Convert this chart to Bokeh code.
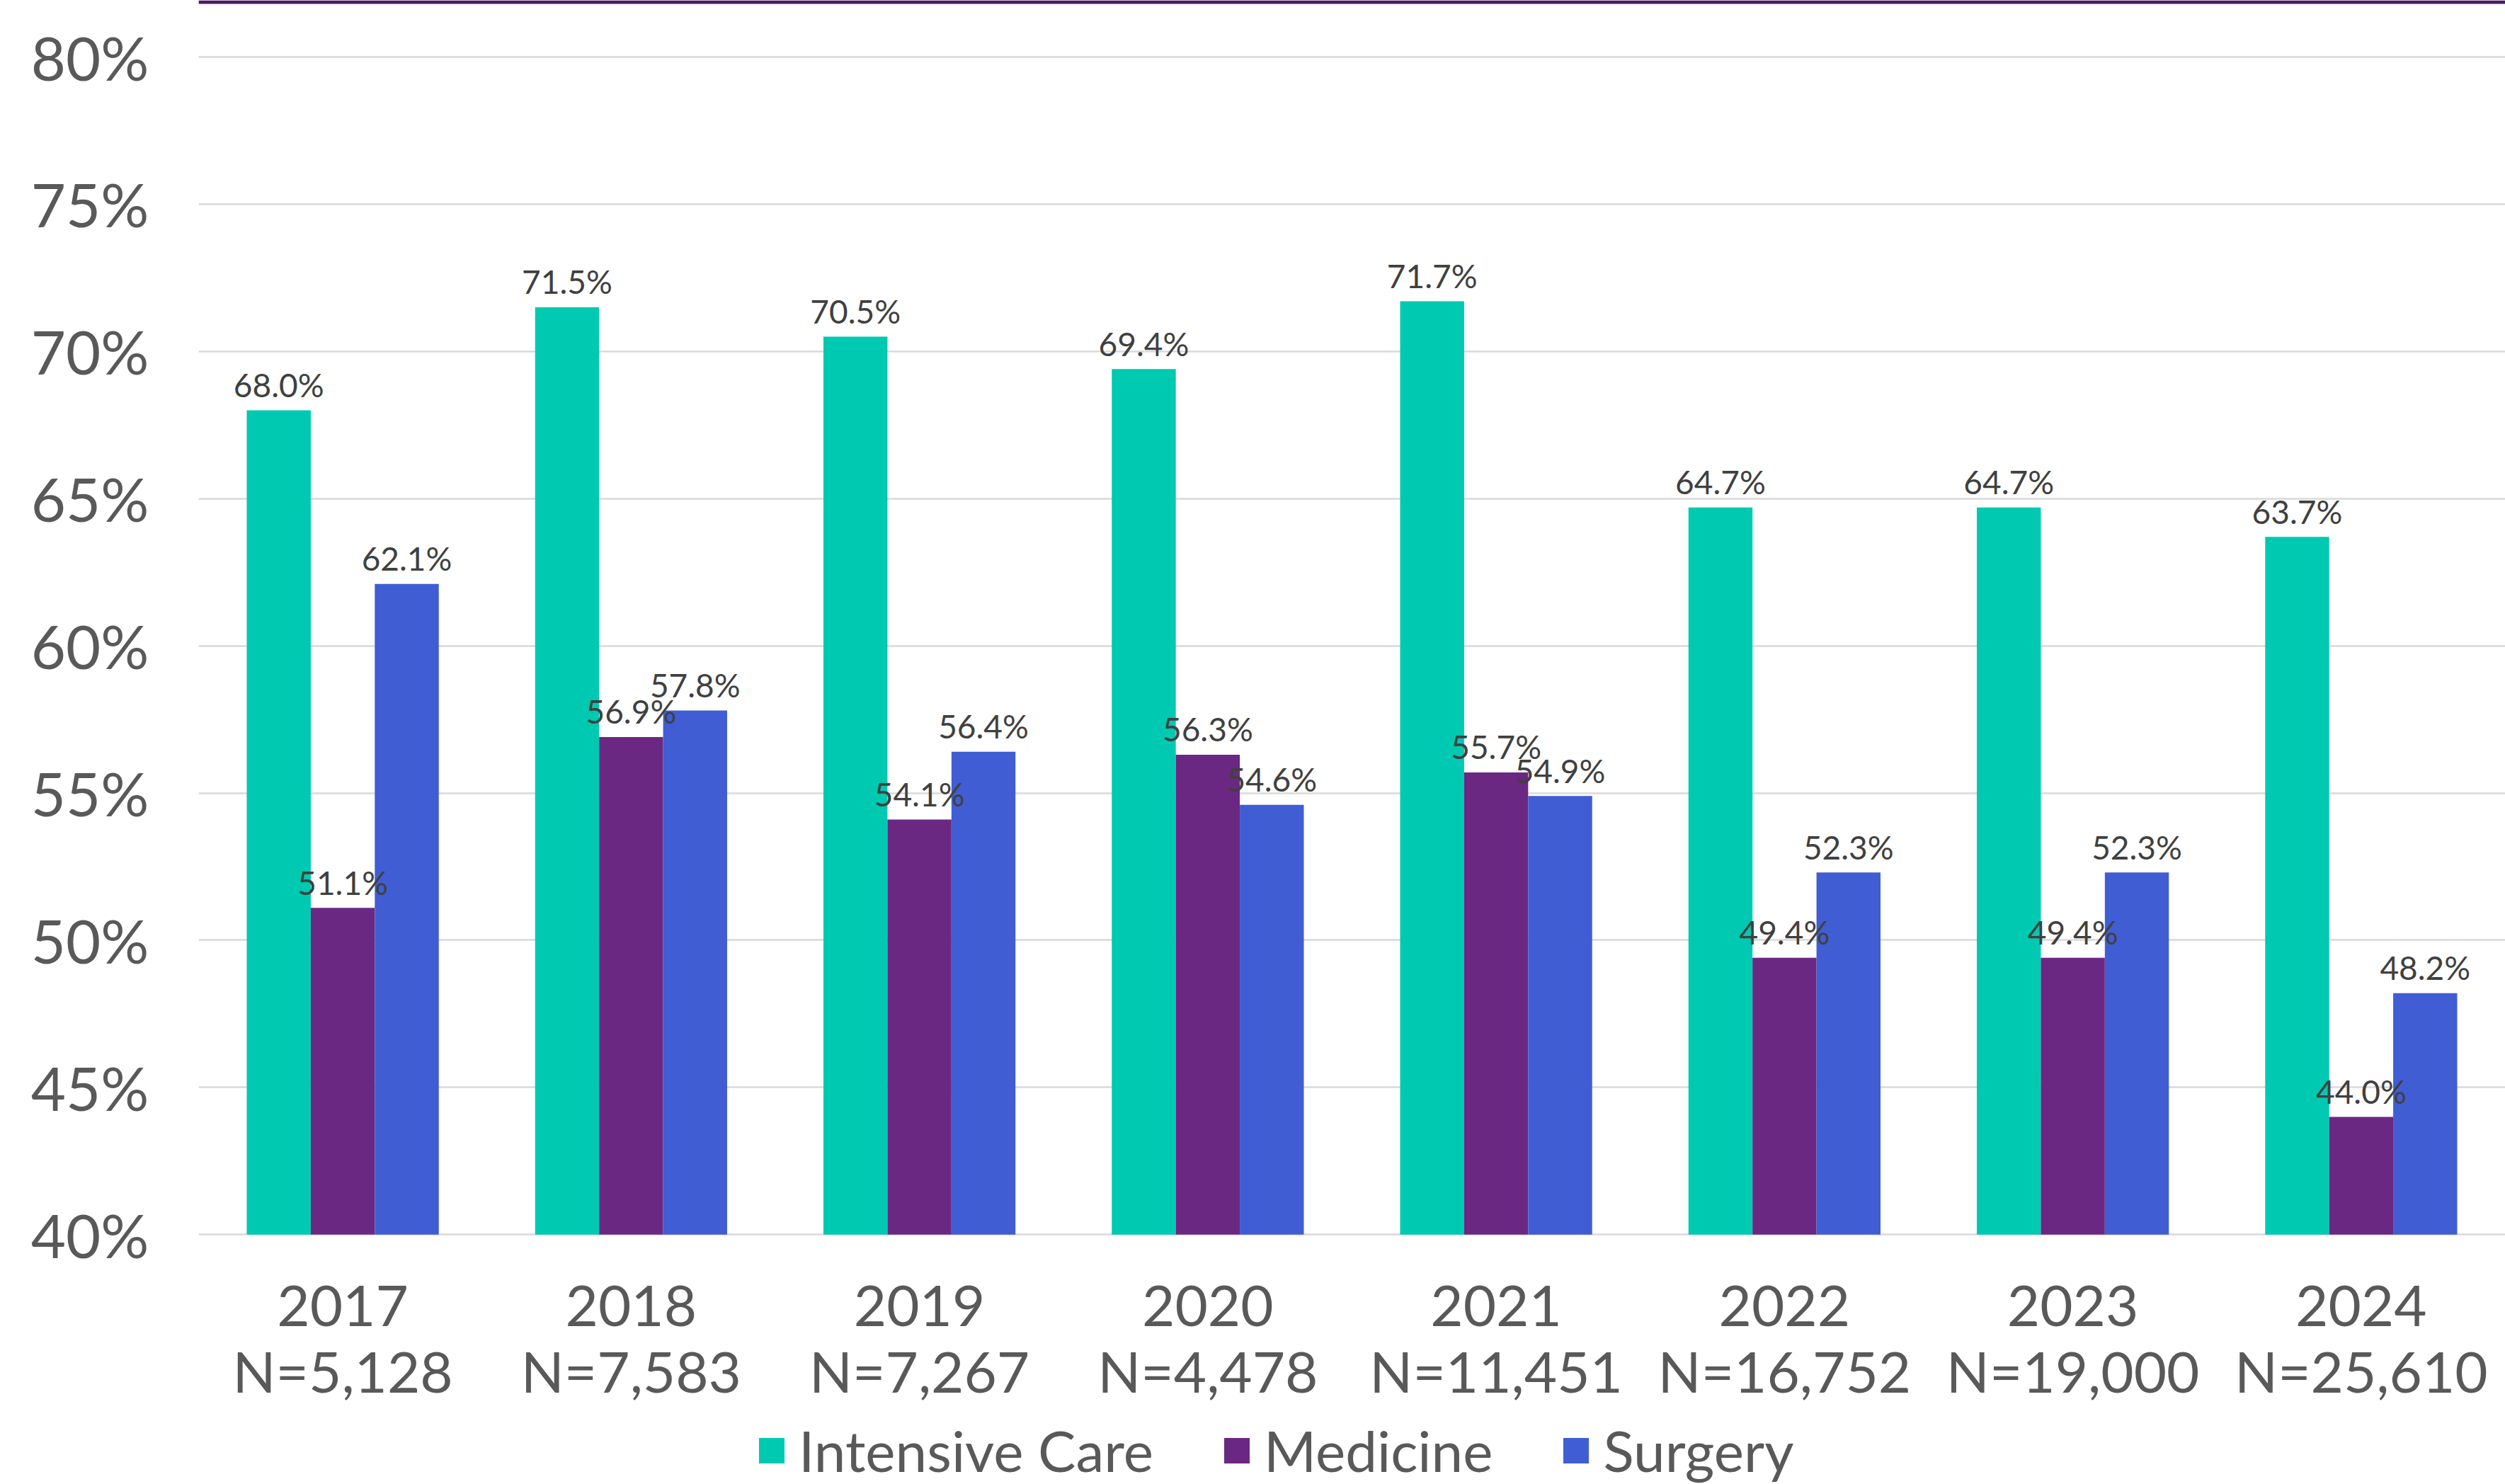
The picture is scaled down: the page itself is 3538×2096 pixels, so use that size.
from bokeh.plotting import figure
from bokeh.models import (FactorRange, Range1d, Legend, LegendItem, LabelSet, CategoricalAxis,
                          ColumnDataSource, FixedTicker, BoxAnnotation, PrintfTickFormatter)
from bokeh.core.properties import value
from bokeh.transform import dodge
from bokeh.embed import file_html
from bokeh.resources import INLINE

years = ["2017", "2018", "2019", "2020", "2021", "2022", "2023", "2024"]
n_labels = ["N=5,128", "N=7,583", "N=7,267", "N=4,478", "N=11,451", "N=16,752", "N=19,000", "N=25,610"]
intensive_care = [68.0, 71.5, 70.5, 69.4, 71.7, 64.7, 64.7, 63.7]
medicine = [51.1, 56.9, 54.1, 56.3, 55.7, 49.4, 49.4, 44.0]
surgery = [62.1, 57.8, 56.4, 54.6, 54.9, 52.3, 52.3, 48.2]
y_ticks = [40, 45, 50, 55, 60, 65, 70, 75, 80]

series = [("Intensive Care", intensive_care, "#00C9B1", -0.222),
          ("Medicine", medicine, "#6A2882", 0.0),
          ("Surgery", surgery, "#405DD3", 0.222)]

FONT = "Lato"
AXIS_GREY = "#595959"
BASE = 40
FRAME_H = 2096
PX_PER_UNIT = 41.58
Y_TOP = 80 + 80 / PX_PER_UNIT
Y_BOT = Y_TOP - FRAME_H / PX_PER_UNIT

p = figure(x_range=FactorRange(*years), y_range=Range1d(Y_BOT, Y_TOP),
           frame_width=3258, frame_height=FRAME_H, output_backend="svg", toolbar_location=None,
           min_border_left=280, min_border_right=0, min_border_top=0, min_border_bottom=0)
p.outline_line_color = None
p.background_fill_color = "white"
p.extra_x_ranges = {"n": FactorRange(*n_labels)}

p.xgrid.visible = False
p.ygrid.grid_line_color = "#D9D9D9"
p.ygrid.grid_line_width = 2.5
p.ygrid.ticker = FixedTicker(ticks=y_ticks)

p.yaxis.ticker = FixedTicker(ticks=y_ticks)
p.yaxis.formatter = PrintfTickFormatter(format="%d%%")
p.yaxis.axis_line_color = None
p.yaxis.major_tick_line_color = None
p.yaxis.minor_tick_line_color = None
p.yaxis.major_tick_out = 0
p.yaxis.major_label_text_font = FONT
p.yaxis.major_label_text_font_size = "85px"
p.yaxis.major_label_text_color = AXIS_GREY
p.yaxis.major_label_standoff = 70


def style_x(ax, standoff):
    ax.axis_line_color = None
    ax.major_tick_line_color = None
    ax.minor_tick_line_color = None
    ax.major_tick_out = 0
    ax.major_tick_in = 0
    ax.major_label_text_font = FONT
    ax.major_label_text_font_size = "80px"
    ax.major_label_text_color = AXIS_GREY
    ax.major_label_standoff = standoff
    ax.fixed_location = BASE


style_x(p.xaxis[0], 72)
n_axis = CategoricalAxis(x_range_name="n")
style_x(n_axis, 144)
p.add_layout(n_axis, "below")

# top accent line
p.add_layout(BoxAnnotation(bottom=Y_TOP - 5 / PX_PER_UNIT, top=Y_TOP, fill_color="#4B1A5E",
                           fill_alpha=1, line_alpha=0))

items = []
for name, vals, color, off in series:
    src = ColumnDataSource(dict(x=years, top=vals, lab=[f"{v:.1f}%" for v in vals]))
    r = p.vbar(x=dodge("x", off, range=p.x_range), top="top", bottom=BASE, width=0.222,
               source=src, fill_color=color, line_color=None)
    items.append(LegendItem(label=name, renderers=[r]))
    p.add_layout(LabelSet(x=dodge("x", off, range=p.x_range), y="top", text="lab", source=src,
                          text_align="center", text_baseline="middle", y_offset=36,
                          text_font=value(FONT), text_font_size=value("46px"),
                          text_color=value("#404040")))

legend = Legend(items=items, orientation="horizontal", location=(787, 0),
                label_text_font=FONT, label_text_font_size="80px", label_text_color=AXIS_GREY,
                glyph_width=45, glyph_height=45, label_standoff=16, spacing=95,
                border_line_color=None, background_fill_alpha=0, margin=0, padding=0)
p.add_layout(legend, "center")

open("out.html", "w").write(file_html(p, INLINE))
